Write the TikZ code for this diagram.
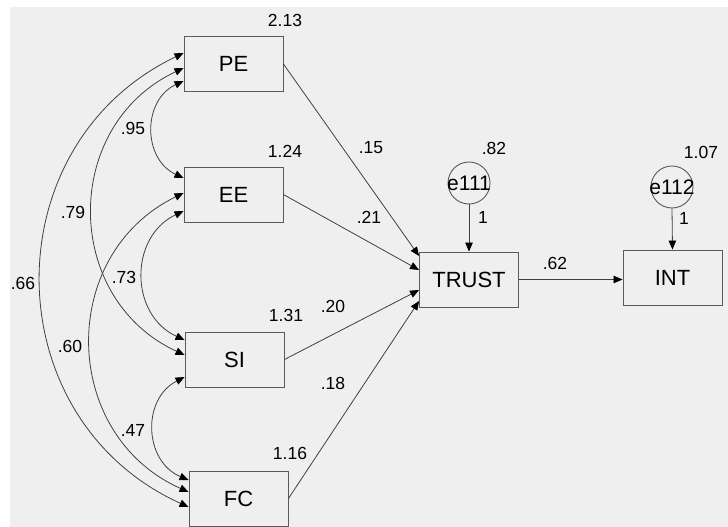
\documentclass[tikz,border=0pt]{standalone}
\usepackage{fontspec}
\setmainfont{Liberation Sans}
\usetikzlibrary{arrows.meta}
\definecolor{canvas}{HTML}{EFEFEF}
\definecolor{linec}{HTML}{404040}
\definecolor{boxc}{HTML}{5A5A5A}

\begin{document}
\begin{tikzpicture}[x=1pt,y=-1pt,
  var/.style={draw=boxc, line width=0.9pt, minimum width=99pt, minimum height=55pt,
              inner sep=0pt, font=\fontsize{22}{26}\selectfont},
  err/.style={circle, draw=boxc, line width=0.9pt, minimum size=42pt, inner sep=0pt},
  errtext/.style={inner sep=0pt, font=\fontsize{21}{25}\selectfont},
  lab/.style={inner sep=0pt, font=\fontsize{17.5}{21}\selectfont},
  tip/.tip={Triangle[length=9pt,width=7.5pt,color=black]},
  reg/.style={draw=linec, line width=0.8pt, -tip},
  cov/.style={draw=linec, line width=0.8pt, tip-tip, bend right=65, looseness=1.2},
]
% canvas
\fill[white] (0,0) rectangle (728,527);
\fill[canvas] (10,7) rectangle (728,527);
\useasboundingbox (0,0) rectangle (728,527);

% observed variables
\node[var] (PE) at (233.5,64) {PE};
\node[var] (EE) at (233.5,194.5) {EE};
\node[var] (SI) at (234.5,359.5) {SI};
\node[var] (FC) at (238.5,498.5) {FC};
\node[var] (TR) at (469,279.5) {TRUST};
\node[var] (IN) at (672.5,277.5) {INT};

% error terms
\node[err, label={[errtext]center:e111}] (e1) at (469,183) {};
\node[err, label={[errtext]center:e112}] (e2) at (672,187) {};

% regression paths
\draw[reg] (PE.east) -- ([yshift=23.5pt]TR.west);
\draw[reg] (EE.east) -- ([yshift=9.5pt]TR.west);
\draw[reg] (SI.east) -- ([yshift=-10.5pt]TR.west);
\draw[reg] (FC.east) -- ([yshift=-21.5pt]TR.west);
\draw[reg] (TR.east) -- (TR.east -| IN.west);
\draw[reg] (e1.south) -- (TR.north);
\draw[reg] (e2.south) -- (IN.north);

% covariances
\draw[cov] ([yshift=-17pt]PE.west) to ([yshift=16.5pt]EE.west);
\draw[cov] ([yshift=-4pt]PE.west) to ([yshift=4.5pt]SI.west);
\draw[cov] ([yshift=11pt]PE.west) to ([yshift=-8.5pt]FC.west);
\draw[cov] ([yshift=-16.5pt]EE.west) to ([yshift=19.5pt]SI.west);
\draw[cov] ([yshift=1.5pt]EE.west) to ([yshift=6.5pt]FC.west);
\draw[cov] ([yshift=-17.5pt]SI.west) to ([yshift=18.5pt]FC.west);

% variances
\node[lab] (vPE) at (285,20) {2.13};
\node[lab] (vEE) at (285,151) {1.24};
\node[lab] (vSI) at (286,315) {1.31};
\node[lab] (vFC) at (290,453) {1.16};
\node[lab] (v1) at (494,148) {.82};
\node[lab] (v2) at (701,152) {1.07};

% covariance estimates
\node[lab] (c1) at (133,128) {.95};
\node[lab] (c2) at (73,212) {.79};
\node[lab] (c3) at (124,277) {.73};
\node[lab] (c4) at (23,283) {.66};
\node[lab] (c5) at (70,346) {.60};
\node[lab] (c6) at (133,430) {.47};

% regression weights
\node[lab] (w1) at (371,148) {.15};
\node[lab] (w2) at (369,217) {.21};
\node[lab] (w3) at (333,306) {.20};
\node[lab] (w4) at (333,383) {.18};
\node[lab] (w5) at (555,263) {.62};
\node[lab] (f1) at (483,217) {1};
\node[lab] (f2) at (684,218) {1};
\end{tikzpicture}
\end{document}
